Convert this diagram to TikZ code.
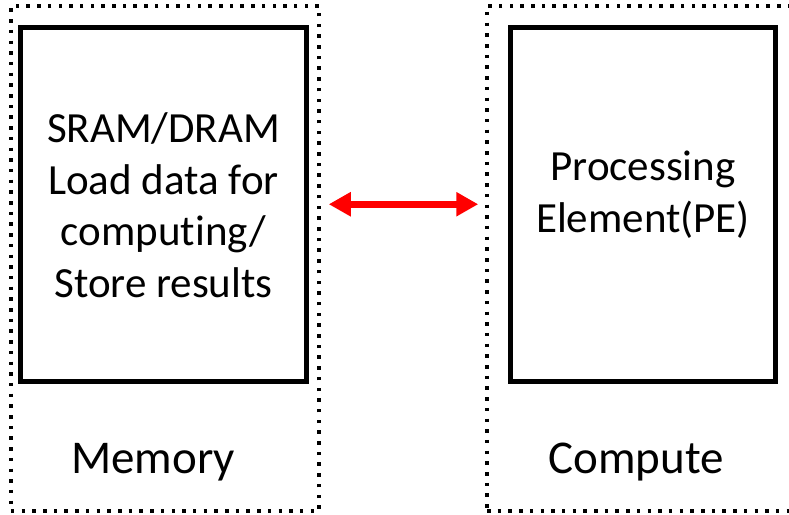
\documentclass[tikz,border=0pt]{standalone}
\usepackage{fontspec}
\setmainfont[Ligatures=NoCommon]{Carlito}
\usetikzlibrary{arrows.meta}
\tikzset{
  group/.style={draw=black, line width=3.5bp, dash pattern=on 3.5bp off 7.2bp,
    inner sep=0pt, minimum height=505bp},
  unit/.style={draw=black, line width=5bp, inner sep=0pt, minimum height=353.5bp},
  body/.style={align=center, font=\fontsize{43bp}{51.5bp}\selectfont, inner sep=0pt},
  title/.style={anchor=base, font=\fontsize{47bp}{56bp}\selectfont, inner sep=0pt},
  link/.style={draw=red, line width=7bp,
    {Triangle[length=22bp,width=23bp]}-{Triangle[length=22bp,width=23bp]}}
}
\begin{document}
\begin{tikzpicture}[x=1bp,y=-1bp]
  \useasboundingbox (0,0) rectangle (789,515);
  % memory side
  \node[group, minimum width=308bp] (memgrp) at (165,258.5) {};
  \node[unit, minimum width=286bp] (membox) at (163.5,204.25) {};
  \node[body] (memtxt) at ([yshift=-1bp]membox.center) {SRAM/DRAM\\Load data for\\computing/\\Store results};
  \node[title] (memlbl) at (153,473) {Memory};
  % compute side
  \node[group, minimum width=333bp] (cmpgrp) at (653.5,258.5) {};
  \node[unit, minimum width=265bp] (pebox) at (643,204.25) {};
  \node[body, font=\fontsize{43bp}{52bp}\selectfont] (petxt) at ([yshift=10bp]pebox.center) {Processing\\Element(PE)};
  \node[title] (cmplbl) at (636,473) {Compute};
  % data path between memory and compute
  \draw[link] ([xshift=8bp]membox.east -| memgrp.east) -- ([xshift=-7bp]pebox.west -| cmpgrp.west);
\end{tikzpicture}
\end{document}
